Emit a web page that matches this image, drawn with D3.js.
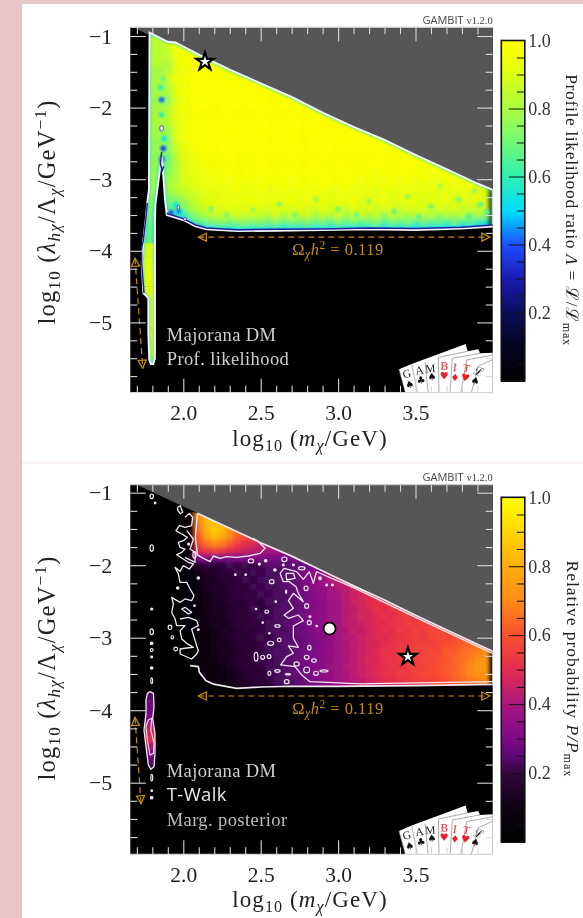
<!DOCTYPE html>
<html><head><meta charset="utf-8">
<script src="https://cdn.jsdelivr.net/npm/d3@7"></script>
<style>
html,body{margin:0;padding:0;background:#e8c5c9;}
svg{display:block;filter:blur(.45px);}
text{font-family:"Liberation Serif",serif;}
</style></head><body><div id="c"></div>
<script>
// ---------- DATA ----------
const gridXStart=1.70, gridXStep=0.05, gridYStart=-1.0, gridYStep=-0.1;
const likeGrid=[
[90,90,88,84,90,95],
[90,90,86,84,92,96,98,99],
[90,90,85,82,86,94,97,99,99,99],
[88,88,84,84,84,95,97,99,99,99,99,99],
[88,88,84,82,80,93,98,98,99,99,99,99,99,99],
[88,88,82,78,84,92,96,99,98,99,99,99,99,99,99,99],
[86,86,82,80,88,94,97,98,99,99,99,99,99,99,99,99,99,99],
[86,86,80,78,82,93,96,98,99,98,99,99,99,99,99,99,99,99,99,99],
[86,86,80,80,80,92,97,98,99,99,99,99,98,99,99,99,99,99,99,99,99,99],
[85,85,78,76,74,90,96,98,98,99,99,99,99,99,99,99,99,99,99,99,99,99,99,99],
[85,85,80,80,82,92,97,97,99,99,98,99,99,99,99,99,99,99,99,99,99,99,99,99,99,99],
[85,85,80,82,84,93,96,98,98,99,99,99,99,99,98,99,99,99,99,99,99,99,99,99,99,99,99,99],
[85,85,80,82,82,92,96,97,98,99,99,98,99,99,99,99,99,99,98,99,99,99,99,99,99,99,99,99,99,99],
[84,84,80,78,78,90,95,98,98,98,99,99,99,99,98,99,99,99,99,99,99,99,98,99,99,99,99,99,99,99,99,99],
[84,84,78,80,76,92,96,97,98,99,98,99,99,98,99,99,99,98,99,99,99,99,99,99,99,98,99,99,99,99,99,99,99,99],
[84,84,76,76,72,88,94,97,98,98,99,99,98,99,99,98,99,99,99,98,99,99,99,99,98,99,99,99,99,98,99,99,99,99,99,99],
[83,83,76,78,74,86,93,96,97,98,98,99,99,98,99,99,99,98,99,99,99,98,99,99,99,99,98,99,99,99,99,99,99,99,99,99,99,99],
[83,83,76,74,68,84,92,95,97,97,98,98,99,98,99,98,99,99,98,99,99,98,99,98,99,99,99,98,99,99,99,98,99,99,99,99,99,99,99,99],
[83,83,76,76,70,82,90,94,95,97,97,98,98,97,98,98,99,98,99,97,98,99,98,99,98,98,99,98,99,98,99,99,98,97,99,99,98,99,99,98,99,99],
[82,82,78,74,74,82,90,93,95,96,97,97,98,97,98,97,98,99,97,98,98,97,99,98,98,97,98,99,97,98,98,96,98,97,97,98,97,98,96,98,97,98,97,98],
[82,82,78,76,78,82,90,92,94,96,95,97,96,97,98,97,96,98,97,98,96,98,97,98,98,97,98,97,98,96,97,95,96,97,96,98,95,97,96,94,97,96,98,95,97,96],
[82,82,78,78,78,84,88,90,92,94,95,94,96,97,95,96,97,96,95,97,96,97,95,96,97,96,95,97,96,94,96,93,97,95,96,94,96,92,95,96,93,96,94,97,92,95],
[80,80,76,76,76,80,85,86,90,91,92,94,93,95,94,93,96,94,95,93,95,94,96,93,95,92,96,94,92,95,93,91,95,92,94,96,90,94,92,89,94,91,95,90,93,88],
[78,78,74,66,70,72,78,84,88,92,93,95,94,96,95,97,94,96,95,94,97,93,96,94,95,92,96,94,97,91,95,93,96,90,95,92,97,89,94,92,96,88,94,91,93,90],
[75,75,72,60,68,66,72,80,85,88,91,90,93,92,94,91,93,90,94,92,89,93,91,88,94,90,92,86,93,89,92,87,91,94,86,92,89,93,85,91,88,92,86,90,84,88],
[72,72,70,50,62,60,58,72,78,82,85,87,85,89,86,88,85,83,89,81,87,84,89,80,86,83,88,79,85,87,81,86,77,85,83,79,87,81,85,77,83,79,85,75,81,79],
[70,70,68,30,30,44,50,60,66,70,72,74,70,74,76,72,74,70,76,68,73,70,74,68,72,66,74,68,72,66,70,74,66,71,68,72,64,70,66,68,63,70,64,66,60,58],
[68,68,66,0,0,0,0,0,36,50,54,56,54,56,58,54,58,53,56,52,56,53,58,52,55,52,56,54,52,55,53,56,50,54,52,54,50,53,51,52,50,52,48,50,48,46],
[68,68,66,0,0,0,0,0,34,46,48,50,48,50,50,48,50,48,50,46,50,48,50,46,48,46,50,48,46,48,48,50,46,48,46,48,46,48,46,46,44,46,44,44,44,42],
[70,70,68]
];
const postGrid=[
[0,0,0,0,0,0],
[0,0,0,0,0,0,0,0],
[0,0,0,0,0,0,0,0,70,70],
[0,0,0,0,0,1,2,3,70,78,78,72],
[0,0,0,0,0,2,3,5,70,84,86,80,72,66],
[0,0,0,0,0,2,3,5,66,82,88,84,74,66,60,56],
[0,0,0,0,0,2,3,5,62,78,84,80,70,62,58,55,50,48],
[0,0,0,0,0,2,3,5,58,66,70,68,62,56,52,50,46,44,42,40],
[0,0,0,0,0,2,3,6,50,54,56,54,50,48,46,44,42,40,38,36,36,36],
[0,0,0,0,0,2,4,7,30,32,30,28,30,32,30,30,32,30,30,28,30,32,34,36],
[0,0,0,0,0,2,4,6,18,20,18,20,22,20,22,20,22,24,26,24,26,26,28,30,34,36],
[0,0,0,0,0,2,3,5,13,16,15,18,20,22,20,23,21,24,22,26,25,28,30,34,36,40,44,48],
[0,0,0,0,0,2,3,5,12,15,14,18,17,20,22,20,23,22,24,26,25,28,32,35,38,42,46,50,54,56],
[0,0,0,0,0,2,3,5,11,14,16,15,18,20,19,22,21,24,22,25,26,28,31,34,36,38,42,44,48,52,54,56],
[0,0,0,0,0,2,3,5,10,13,15,16,17,19,21,20,23,21,24,23,26,27,30,33,36,38,40,43,45,48,50,52,54,56],
[0,0,0,0,0,2,3,5,10,12,14,15,18,17,20,21,19,23,22,24,25,28,30,32,35,37,40,42,46,47,50,51,53,52,55,56],
[0,0,0,0,0,2,3,5,9,12,15,14,16,19,18,22,20,21,23,25,24,27,29,32,34,38,39,43,44,47,49,52,50,53,55,54,56,58],
[0,0,0,0,0,2,3,5,9,11,13,15,17,18,20,19,22,21,24,23,26,28,31,33,36,37,40,42,45,48,47,50,52,51,54,55,53,56,58,60],
[0,0,0,0,0,2,3,5,8,11,14,13,16,18,19,21,20,23,22,25,26,27,30,32,35,38,39,43,44,46,48,50,49,52,53,55,54,57,56,58,60,62],
[0,0,0,0,0,2,3,5,8,10,13,15,15,17,20,19,21,22,24,23,25,28,29,32,34,37,40,41,45,44,47,49,51,50,54,53,56,55,58,57,59,60,62,64],
[0,0,0,0,0,2,3,4,8,10,12,14,16,18,17,20,22,20,23,25,24,26,29,31,33,36,38,42,43,46,47,50,49,52,53,55,56,54,57,59,58,60,61,63,65,66],
[0,0,0,0,0,2,3,4,7,10,13,13,15,17,19,18,21,23,22,24,26,27,28,30,34,35,39,40,44,45,48,47,51,52,54,53,56,57,55,58,60,61,63,64,66,68],
[0,0,0,0,0,2,3,4,7,9,12,14,14,16,19,20,20,22,24,23,25,28,29,31,33,36,38,41,43,46,47,50,52,51,55,54,57,56,59,58,62,62,65,66,68,72],
[0,0,0,0,0,2,3,4,6,9,11,13,15,17,18,19,22,21,23,25,26,27,30,30,34,35,39,40,44,45,49,48,52,53,54,56,55,58,57,60,61,64,65,68,72,74],
[0,0,0,0,0,2,3,4,6,8,10,12,14,16,19,18,20,23,22,24,25,28,29,32,33,37,38,42,43,46,47,50,51,54,53,55,57,56,59,60,62,63,66,70,74,76],
[0,0,0,0,0,2,3,4,5,8,10,11,13,15,17,19,19,21,23,24,26,27,28,31,34,36,39,40,44,45,48,49,52,52,55,54,56,58,58,60,61,64,66,70,73,74],
[0,0,0,0,0,2,3,3,5,7,9,10,12,14,16,18,18,20,22,24,24,26,29,30,32,35,37,40,42,44,46,48,50,51,52,54,55,56,57,58,60,62,64,66,68,70],
[0,0,0,0,0,1,2,3,4,5,7,8,10,12,14,15,16,17,19,20,22,24,25,27,29,32,34,36,38,40,42,44,45,46,48,49,50,51,52,53,54,56,58,60,62,64],
[0,0,0,0,0,0,0,0,4,5,7,8,10,12,14,15,16,17,19,20,22,24,25,27,29,32,34,36,38,40,42,44,45,46,48,49,50,51,52,53,54,56,58,60,62,64]
];
// narrow funnel strip at low mass
const stripLikeY=[-4.0,-4.2,-4.4,-4.6,-4.8,-5.0,-5.2,-5.4,-5.6];
const stripLikeV=[88,90,92,92,90,92,90,88,80];
const stripPostY=[-3.7,-3.8,-3.9,-4.0,-4.1,-4.2,-4.3,-4.4,-4.5,-4.6,-4.7,-4.8];
const stripPostV=[22,24,28,28,30,42,48,50,40,32,26,22];
// isolated darker specks in the likelihood map: x, y, value
const specksLike=[[1.86,-1.89,42],[1.855,-1.72,62],[1.87,-1.60,70],[1.86,-2.10,60],[1.875,-2.43,55],[1.87,-2.57,40],[1.862,-2.72,38],[1.95,-3.36,55],[1.97,-3.45,45],[1.92,-3.47,40],
[2.45,-3.43,78],[2.62,-3.35,74],[2.72,-3.5,72],[2.86,-3.28,80],[3.0,-3.42,72],[3.12,-3.5,70],[3.2,-3.3,78],[3.36,-3.45,70],[3.45,-3.24,78],[3.52,-3.52,68],[3.6,-3.38,74],[3.66,-3.1,80],[3.78,-3.28,72],[3.84,-3.52,66],[3.92,-3.35,68],[3.88,-3.16,78],[3.96,-3.46,66],[2.28,-3.5,72],[2.18,-3.42,74]];

const xMajor=[2.0,2.5,3.0,3.5];
const xMinor=[1.7,1.8,1.9,2.1,2.2,2.3,2.4,2.6,2.7,2.8,2.9,3.1,3.2,3.3,3.4,3.6,3.7,3.8,3.9];
const yMajor=[-1,-2,-3,-4,-5];
const yMinor=[-1.25,-1.5,-1.75,-2.25,-2.5,-2.75,-3.25,-3.5,-3.75,-4.25,-4.5,-4.75,-5.25,-5.5,-5.75];
const cbMajor=[0.2,0.4,0.6,0.8,1.0];
const cbMinor=[0.05,0.1,0.15,0.25,0.3,0.35,0.45,0.5,0.55,0.65,0.7,0.75,0.85,0.9,0.95];

const likeStops=[0,0.1,0.2,0.3,0.4,0.5,0.6,0.7,0.8,0.9,1];
const likeColors=["#000000","#04041e","#0c0c5a","#1a1ab0","#1c4cff","#00dcff","#2cf0b4","#70f878","#a8fc40","#dcff14","#ffff00"];
const postStops=[0,0.1,0.2,0.25,0.3,0.4,0.5,0.6,0.7,0.8,0.9,1];
const postColors=["#000000","#0c0410","#32063e","#5a0870","#7c0a88","#a81680","#e42c50","#fa4e30","#ff8a18","#ffac0c","#ffd400","#ffff00"];

const outlineLike=[[1.782,-0.953],[1.90,-1.08],[1.95,-1.09],[2.10,-1.26],[2.30,-1.47],[2.50,-1.66],[2.70,-1.85],[2.90,-2.07],[3.10,-2.27],[3.30,-2.45],[3.50,-2.66],[3.70,-2.86],[3.90,-3.06],[4.0,-3.15],[4.0,-3.66],[3.8,-3.69],[3.5,-3.71],[3.2,-3.70],[2.9,-3.71],[2.6,-3.72],[2.35,-3.725],[2.15,-3.70],[2.08,-3.66],[2.0,-3.57],[1.893,-3.50],[1.882,-3.29],[1.871,-2.965],[1.86,-2.685],[1.85,-2.85],[1.835,-3.1],[1.82,-3.35],[1.817,-3.6],[1.817,-5.5],[1.806,-5.58],[1.79,-5.58],[1.78,-5.52],[1.774,-5.15],[1.774,-4.66],[1.742,-4.59],[1.731,-4.17],[1.742,-3.85],[1.759,-3.53],[1.768,-3.31],[1.778,-3.15]];
const navyLikeBottom=[[4.0,-3.64],[3.8,-3.67],[3.5,-3.69],[3.2,-3.68],[2.9,-3.695],[2.6,-3.70],[2.35,-3.705],[2.15,-3.68],[2.08,-3.64],[2.0,-3.55],[1.893,-3.48]];
const navyLikeSpike=[[1.86,-2.62],[1.852,-2.78],[1.863,-2.88],[1.873,-2.82]];
const navyLikeLeft=[[1.768,-3.33],[1.759,-3.53],[1.742,-3.85],[1.731,-3.96],[1.731,-4.17],[1.746,-4.59]];
const dotsLike=[[1.860,-2.29,0.012,0.04],[1.968,-3.393,0.008,0.03],[2.011,-3.556,0.01,0.02]];

const greyLike=[[1.70,-0.875],[4.0,-0.875],[4.0,-3.15],[1.70,-0.905]];
const greyPost=[[1.70,-0.89],[4.0,-0.89],[4.0,-3.19],[1.70,-0.89]];

const outlinePost=[[2.091,-1.285],[2.3,-1.49],[2.5,-1.69],[2.7,-1.875],[2.9,-2.08],[3.1,-2.285],[3.3,-2.48],[3.5,-2.69],[3.7,-2.89],[3.9,-3.09],[4.0,-3.19],[4.0,-3.645],[3.5,-3.66],[3.0,-3.67],[2.7,-3.67],[2.5,-3.68],[2.345,-3.70],[2.194,-3.64],[2.147,-3.593],[2.104,-3.478],[2.097,-3.40],[2.044,-3.386]];
const regionPostExtra=[[1.95,-3.4],[1.95,-1.2]];
const trianglePost=[[2.091,-1.294],[2.078,-1.607],[2.091,-1.859],[2.130,-1.905],[2.173,-1.951],[2.194,-1.873],[2.237,-1.905],[2.280,-1.882],[2.345,-1.892],[2.420,-1.873],[2.496,-1.837],[2.528,-1.767],[2.485,-1.675],[2.452,-1.63]];
const chainPost=[[4.0,-3.607],[3.314,-3.63],[3.142,-3.638],[2.969,-3.62],[2.818,-3.606],[2.765,-3.514],[2.722,-3.399],[2.629,-3.376],[2.668,-3.261],[2.711,-3.215],[2.679,-3.114],[2.743,-3.132],[2.711,-3.008],[2.711,-2.838],[2.775,-2.765],[2.743,-2.687],[2.679,-2.732],[2.651,-2.687],[2.711,-2.595],[2.679,-2.489],[2.711,-2.388],[2.775,-2.503],[2.743,-2.388],[2.728,-2.296],[2.685,-2.227],[2.646,-2.227],[2.625,-2.112],[2.651,-2.043],[2.732,-2.089],[2.775,-2.195],[2.814,-2.089],[2.840,-2.25],[2.86,-2.09],[3.1,-2.31],[3.5,-2.72],[4.0,-3.22]];
const chainInner=[[2.663,-2.112],[2.711,-2.112],[2.722,-2.181],[2.668,-2.204],[2.663,-2.112]];
const bandPost=[[2.011,-1.34],[2.039,-1.285],[2.061,-1.34],[2.054,-1.455],[2.011,-1.478],[1.975,-1.455],[1.953,-1.524],[1.990,-1.57],[2.026,-1.616],[2.0,-1.662],[1.968,-1.685],[1.979,-1.754],[2.011,-1.777],[1.990,-1.823],[1.957,-1.855],[2.0,-1.914],[2.033,-1.96],[2.065,-1.983],[2.039,-2.052],[2.0,-2.006],[1.979,-2.085],[1.947,-2.03],[1.968,-2.121],[1.979,-2.236],[2.022,-2.236],[2.044,-2.328],[2.069,-2.42],[2.054,-2.489],[2.011,-2.466],[1.979,-2.512],[1.925,-2.443],[1.936,-2.535],[1.925,-2.65],[1.947,-2.742],[1.957,-2.834],[2.011,-2.834],[1.979,-2.903],[1.990,-3.018],[2.022,-3.078],[2.065,-3.133],[2.022,-3.142],[1.979,-3.156],[1.979,-3.225],[2.054,-3.294],[2.087,-3.225],[2.097,-3.179],[2.076,-3.041],[2.054,-2.88],[2.097,-2.834],[2.087,-2.765],[2.033,-2.719],[1.979,-2.742]];
const bandLoop=[[2.011,-2.581],[2.054,-2.65],[2.033,-2.673],[1.99,-2.604],[2.011,-2.581]];
const bandUpper=[[2.022,-1.524],[2.065,-1.639],[2.044,-1.777],[2.076,-1.823],[2.076,-1.96],[2.011,-1.891]];
const topLoop=[[1.964,-1.20],[1.98,-1.18],[1.996,-1.27],[1.98,-1.29],[1.964,-1.24],[1.964,-1.20]];
const stripPostOuter=[[1.785,-3.744],[1.807,-3.767],[1.811,-3.951],[1.802,-4.112],[1.817,-4.319],[1.817,-4.595],[1.811,-4.78],[1.79,-4.815],[1.774,-4.755],[1.759,-4.503],[1.746,-4.273],[1.759,-4.043],[1.759,-3.859],[1.768,-3.767],[1.785,-3.744]];
const stripPostInner=[[1.774,-4.135],[1.796,-4.112],[1.79,-4.273],[1.811,-4.457],[1.807,-4.595],[1.785,-4.618],[1.768,-4.411],[1.759,-4.227],[1.774,-4.135]];
// small closed contour islands: centre x, centre y, half-width, half-height (in axis units)
const islandsPost=[
[1.796,-1.05,.011,.032],[1.818,-1.142,.005,.012],[1.796,-1.763,.011,.045],[1.796,-2.604,.007,.014],[1.796,-2.917,.011,.04],[1.796,-3.078,.008,.018],[1.796,-3.17,.009,.02],[1.796,-3.266,.006,.012],[1.796,-3.418,.008,.016],[1.796,-3.593,.006,.04],[1.796,-4.93,.006,.045],[1.796,-5.11,.005,.01],[1.796,-5.206,.008,.018],
[2.336,-2.131,.005,.01],[2.403,-2.131,.005,.01],[2.470,-3.262,.012,.06],[2.097,-2.177,.008,.016],[2.035,-1.708,.007,.014],[2.072,-1.859,.01,.045],[1.964,-2.314,.008,.016],[1.929,-2.995,.008,.022],[1.914,-2.857,.012,.03],[1.951,-3.156,.012,.025],[2.097,-2.889,.006,.012],[2.072,-2.558,.005,.01],[2.47,-2.604,.005,.01],
[2.437,-1.942,.017,.028],[2.491,-1.984,.007,.014],[2.532,-1.938,.008,.016],[2.653,-1.919,.017,.032],[2.592,-2.066,.008,.016],[2.646,-1.997,.006,.012],[2.711,-1.997,.006,.012],[2.765,-2.043,.021,.022],[2.883,-2.181,.008,.02],[2.926,-2.273,.006,.012],[2.963,-2.273,.006,.012],[2.571,-2.227,.015,.028],
[2.539,-2.64,.012,.022],[2.513,-2.792,.005,.01],[2.597,-2.503,.005,.01],[2.608,-2.838,.017,.018],[2.556,-2.939,.005,.01],[2.564,-3.077,.019,.028],[2.62,-3.031,.012,.025],[2.513,-3.27,.012,.028],[2.554,-3.261,.012,.028],[2.556,-3.491,.009,.03],[2.608,-3.459,.017,.018],[2.676,-3.505,.017,.009],[2.668,-3.606,.015,.028],[2.732,-3.362,.017,.028],[2.797,-3.270,.015,.028],[2.844,-3.316,.015,.023],[2.797,-3.445,.019,.041],[2.857,-3.491,.015,.028],[2.909,-3.459,.026,.014],[2.814,-3.137,.011,.032],[2.814,-2.792,.013,.032],[2.818,-2.71,.006,.012],[2.862,-2.838,.005,.01],[2.793,-2.319,.013,.032],[2.797,-2.562,.013,.032],[2.664,-2.365,.004,.023]
];
const starLike=[2.140,-1.358], starPost=[3.451,-3.262], meanPost=[2.945,-2.875];
const relicLikeH=[[2.097,-3.81],[3.98,-3.81]], relicLikeV=[[1.688,-4.105],[1.738,-5.64]];
const relicPostH=[[2.097,-3.804],[3.98,-3.804]], relicPostV=[[1.688,-4.10],[1.727,-5.29]];

// cards decoration
const cardLetters=[["G",38,100,-15,"#222"],["A",75,90,-10,"#222"],["M",107,85,-4,"#222"],["B",147,78,2,"#f01c28"],["I",178,82,8,"#f01c28"],["T",212,85,12,"#f01c28"],["ℒ",247,95,16,"#222"]];
const cardSuits=[["♠",47,133,-15,"#111"],["♣",80,120,-10,"#111"],["♠",112,110,-4,"#111"],["♥",147,107,2,"#f01c28"],["♦",178,112,8,"#f01c28"],["♥",209,112,12,"#f01c28"],["♠",238,122,16,"#111"]];

// ---------- DRAW ----------
const W=583,H=918;
const svg=d3.select("#c").append("svg").attr("width",W).attr("height",H);
svg.append("rect").attr("width",W).attr("height",H).attr("fill","#e8c5c9");
svg.append("rect").attr("x",22).attr("y",4).attr("width",W-22).attr("height",H-4).attr("fill","#fff");
svg.append("rect").attr("x",22).attr("y",462).attr("width",W-22).attr("height",1.5).attr("fill","#f4eaea");
const defs=svg.append("defs");
const mk=defs.append("marker").attr("id","arr").attr("viewBox","0 0 10 10").attr("refX",9).attr("refY",5)
  .attr("markerWidth",10).attr("markerHeight",10).attr("markerUnits","userSpaceOnUse").attr("orient","auto-start-reverse");
mk.append("path").attr("d","M1,1 L9,5 L1,9 Z").attr("fill","none").attr("stroke","#c58a0c").attr("stroke-width",1.3);
defs.append("filter").attr("id","blL").attr("x","-5%").attr("y","-5%").attr("width","110%").attr("height","110%")
  .append("feGaussianBlur").attr("stdDeviation",2.5);
defs.append("filter").attr("id","blP").attr("x","-5%").attr("y","-5%").attr("width","110%").attr("height","110%")
  .append("feGaussianBlur").attr("stdDeviation",2.0);
defs.append("filter").attr("id","bl2").attr("x","-100%").attr("y","-100%").attr("width","300%").attr("height","300%")
  .append("feGaussianBlur").attr("stdDeviation",1);

function math(g,x,y,segs,size,rot,anchor,ls){
  const t=g.append("text").attr("transform",`translate(${x},${y}) rotate(${rot||0})`)
    .attr("text-anchor",anchor||"middle").attr("font-size",size).attr("fill","#222").attr("letter-spacing",(ls||0)+"px");
  let cur=0;
  segs.forEach(s=>{
    const k=s[1]||"";
    const small=k.includes("sub")||k.includes("sup");
    const target=k.includes("sub")?size*0.2:k.includes("sup")?-size*0.38:0;
    const sp=t.append("tspan").text(s[0]).attr("dy",target-cur);
    if(small)sp.attr("font-size",size*0.7);
    if(k.endsWith("i"))sp.attr("font-style","italic");
    cur=target;
  });
  return t;
}
const line=(x,y)=>d3.line().x(d=>x(d[0])).y(d=>y(d[1]));

function panel(o){
  const x=d3.scaleLinear().domain([2,3.5]).range([183.3,415.5]);
  const y=d3.scaleLinear().domain([-1,-5]).range([o.y1,o.y5]);
  const L=130.3,R=492.7,T=o.top,B=o.bottom;
  const id=o.id;
  const g=svg.append("g");
  defs.append("clipPath").attr("id","plot"+id).append("rect").attr("x",L).attr("y",T).attr("width",R-L).attr("height",B-T);
  defs.append("clipPath").attr("id","reg"+id).append("path").attr("d",line(x,y)(o.region)+"Z");
  g.append("rect").attr("x",L).attr("y",T).attr("width",R-L).attr("height",B-T).attr("fill","#000");
  const color=d3.scaleLinear().domain(o.stops).range(o.colors).interpolate(d3.interpolateRgb).clamp(true);
  const pg=g.append("g").attr("clip-path",`url(#plot${id})`);
  pg.append("path").attr("d",line(x,y)(o.grey)+"Z").attr("fill","#565656");
  // heat cells
  const hc=pg.append("g").attr("clip-path",`url(#reg${id})`);
  const hb=hc.append("g").attr("filter",`url(#bl${id})`);
  o.grid.forEach((row,r)=>row.forEach((v,i)=>{
    const cx=gridXStart+gridXStep*i, cy=gridYStart+gridYStep*r;
    hb.append("rect").attr("x",x(cx-gridXStep/2)).attr("y",y(cy-gridYStep/2))
      .attr("width",x(cx+gridXStep/2)-x(cx-gridXStep/2)+.5).attr("height",y(cy+gridYStep/2)-y(cy-gridYStep/2)+.5)
      .attr("fill",color(v/100));
  }));
  if(o.drawOverlay)o.drawOverlay(pg,hc,x,y,color);
  // relic arrows
  [o.relicH,o.relicV].forEach(a=>pg.append("path").attr("d",line(x,y)(a)).attr("fill","none")
    .attr("stroke","#c58a0c").attr("stroke-width",1.2).attr("stroke-dasharray","6,4")
    .attr("marker-start","url(#arr)").attr("marker-end","url(#arr)"));
  // markers
  const star=d3.symbol().type(d3.symbolStar).size(95);
  pg.append("path").attr("d",star()).attr("transform",`translate(${x(o.star[0])},${y(o.star[1])})`)
    .attr("fill","#fff").attr("stroke","#000").attr("stroke-width",2.2);
  // ticks
  const tickG=g.append("g");
  const tk=(axis,tx,ty)=>{const a=tickG.append("g").attr("transform",`translate(${tx},${ty})`).call(axis);
    a.select(".domain").remove();a.selectAll("text").remove();a.selectAll("line").attr("stroke","#d8d8d8").attr("stroke-width",1.1);};
  tk(d3.axisBottom(x).tickValues(xMajor).tickSize(14),0,T);
  tk(d3.axisBottom(x).tickValues(xMinor).tickSize(7),0,T);
  tk(d3.axisTop(x).tickValues(xMajor).tickSize(14),0,B);
  tk(d3.axisTop(x).tickValues(xMinor).tickSize(7),0,B);
  tk(d3.axisRight(y).tickValues(yMajor).tickSize(15.5),L,0);
  tk(d3.axisRight(y).tickValues(yMinor).tickSize(7),L,0);
  tk(d3.axisLeft(y).tickValues(yMajor).tickSize(15.5),R,0);
  tk(d3.axisLeft(y).tickValues(yMinor).tickSize(7),R,0);
  g.append("line").attr("x1",L).attr("x2",R).attr("y1",T).attr("y2",T).attr("stroke","#c8c8c8").attr("stroke-width",1.2);
  g.append("line").attr("x1",L).attr("x2",R).attr("y1",B).attr("y2",B).attr("stroke","#d8d8d8").attr("stroke-width",1.2);
  // labels on plot
  o.notes.forEach(n=>{pg.append("text").attr("x",166.7).attr("y",n[1]).attr("font-size",18.5).attr("fill",n[2]||"#cfcfcf")
    .attr("letter-spacing",".4px").style("font-family",n[3]||null).text(n[0]);});
  const om=math(pg,338,o.relicLabelY,[["Ω"],["χ","subi"],["h","i"],["2","sup"],[" = 0.119"]],16.5,0,"middle",.5);
  om.attr("fill","#c58a0c");
  // cards
  const cg=pg.append("g").attr("transform",`translate(395,${B-52.7})`);
  const sc=v=>v/3;
  cg.append("path").attr("d","M12,88 L50,72 L212,12 L218,34 L250,28 L255,40 L300,38 L300,162 L32,162 Z".replace(/-?\d+(\.\d+)?/g,m=>sc(+m))).attr("fill","#fff");
  [[32,162,12,88],[68,162,50,72],[100,162,90,66],[132,162,130,52],[165,162,172,55],[197,162,215,60],[228,162,250,78],
   [130,52,218,34],[172,55,255,40],[215,60,300,44],[250,78,300,56]].forEach(l=>
    cg.append("line").attr("x1",sc(l[0])).attr("y1",sc(l[1])).attr("x2",sc(l[2])).attr("y2",sc(l[3])).attr("stroke","#888").attr("stroke-width",.7));
  cardLetters.forEach(c=>cg.append("text").text(c[0]).attr("font-size",11.5).attr("fill",c[4]).attr("text-anchor","middle")
    .attr("transform",`translate(${sc(c[1])},${sc(c[2])+4}) rotate(${c[3]})`));
  cardSuits.forEach(c=>cg.append("text").text(c[0]).attr("font-size",10).attr("fill",c[4]).attr("text-anchor","middle")
    .style("font-family","DejaVu Sans").attr("transform",`translate(${sc(c[1])},${sc(c[2])+3.5}) rotate(${c[3]})`));
  // axis numbers
  const xa=g.append("g").attr("transform",`translate(0,${B})`).call(d3.axisBottom(x).tickValues(xMajor).tickSize(0).tickPadding(12.5).tickFormat(d3.format(".1f")));
  xa.select(".domain").remove();xa.selectAll("text").attr("font-size",21.5).attr("fill","#222").style("font-family","Liberation Serif");
  const ya=g.append("g").attr("transform",`translate(${L},0)`).call(d3.axisLeft(y).tickValues(yMajor).tickSize(0).tickPadding(18).tickFormat(d3.format("d")));
  ya.select(".domain").remove();ya.selectAll("text").attr("font-size",22).attr("fill","#222").style("font-family","Liberation Serif");
  // titles
  math(g,310,o.xTitleY,[["log"],["10","sub"],[" ("],["m","i"],["χ","subi"],["/GeV)"]],23,0,"middle",1.1);
  math(g,55,o.yTitleY,[["log"],["10","sub"],[" ("],["λ","i"],["hχ","subi"],["/Λ"],["χ","subi"],["/GeV"],["−1","sup"],[")"]],24.5,-90,"middle",1.2);
  // GAMBIT tag
  const tag=g.append("text").attr("x",R).attr("y",T-3.5).attr("text-anchor","end").attr("fill","#444");
  tag.append("tspan").text("GAMBIT ").style("font-family","Open Sans").attr("font-size",11);
  tag.append("tspan").text("v1.2.0").attr("font-size",10.5);
  // colour bar
  const cb=d3.scaleLinear().domain([0,1]).range([o.cbB,o.cbT]);
  const cbL=501.3,cbR=524.8;
  const barG=g.append("g").attr("shape-rendering","crispEdges");
  d3.range(0,1,0.004).forEach(v=>barG.append("rect").attr("x",cbL).attr("width",cbR-cbL).attr("y",cb(v+0.004)).attr("height",cb(v)-cb(v+0.004)+1.2).attr("fill",color(v+.002)));
  const cbt=(axis)=>{const a=g.append("g").attr("transform",`translate(${cbR},0)`).call(axis);a.select(".domain").remove();a.selectAll("text").remove();a.selectAll("line").attr("stroke","#111").attr("stroke-width",1);};
  cbt(d3.axisLeft(cb).tickValues(cbMajor.slice(0,4)).tickSize(16));
  cbt(d3.axisLeft(cb).tickValues(cbMinor).tickSize(8));
  g.append("rect").attr("x",cbL).attr("y",o.cbT).attr("width",cbR-cbL).attr("height",o.cbB-o.cbT).attr("fill","none").attr("stroke","#111").attr("stroke-width",1.6);
  const cl=g.append("g").attr("transform",`translate(${cbR},0)`).call(d3.axisRight(cb).tickValues(cbMajor).tickSize(0).tickPadding(3.5).tickFormat(d3.format(".1f")));
  cl.select(".domain").remove();cl.selectAll("text").attr("font-size",18).attr("fill","#333").style("font-family","Liberation Serif");
  math(g,o.cbTitleX,o.cbTitleY,o.cbTitle,17.5,90,"middle",o.cbLs);
}

panel({id:"L",top:27.3,bottom:392.7,y1:36,y5:322.4,grid:likeGrid,stops:likeStops,colors:likeColors,
  region:outlineLike,grey:greyLike,star:starLike,relicH:relicLikeH,relicV:relicLikeV,relicLabelY:255,
  notes:[["Majorana DM",341],["Prof. likelihood",365]],xTitleY:446,yTitleY:212,
  cbT:40.5,cbB:380.5,cbTitleX:566,cbTitleY:210,cbLs:.65,
  cbTitle:[["Profile likelihood ratio "],["Λ","i"],[" = ℒ/ℒ"],["max","sub"]],
  drawOverlay(pg,hc,x,y,color){
    stripLikeY.forEach((v,i)=>hc.append("rect").attr("x",x(1.70)).attr("width",x(1.85)-x(1.70))
      .attr("y",y(v+0.105)).attr("height",y(v-0.1)-y(v+0.105)).attr("fill",color(stripLikeV[i]/100)));
    specksLike.forEach(s=>hc.append("circle").attr("cx",x(s[0])).attr("cy",y(s[1])).attr("r",2.8).attr("fill",color(s[2]/100)).attr("filter","url(#bl2)"));
    hc.append("path").attr("d",line(x,y)(outlineLike)+"Z").attr("fill","none").attr("stroke","#22dcd0").attr("stroke-width",3.5).attr("stroke-opacity",.7).attr("filter","url(#bl2)");
    const l=line(x,y);
    pg.append("path").attr("d",l(outlineLike)+"Z").attr("fill","none").attr("stroke","#f4f4ff").attr("stroke-width",1.9);
    [navyLikeBottom,navyLikeSpike,navyLikeLeft].forEach(a=>pg.append("path").attr("d",l(a)).attr("fill","none").attr("stroke","#20209a").attr("stroke-width",1.5));
    dotsLike.forEach(d=>pg.append("ellipse").attr("cx",x(d[0])).attr("cy",y(d[1])).attr("rx",x(d[0]+d[2])-x(d[0])).attr("ry",y(d[1]-d[3])-y(d[1])).attr("fill","#fff").attr("stroke","#2424c0").attr("stroke-width",.8));
  }
});

panel({id:"P",top:484.7,bottom:854.3,y1:492.7,y5:782.7,grid:postGrid,stops:postStops,colors:postColors,
  region:outlinePost.concat(regionPostExtra),grey:greyPost,star:starPost,relicH:relicPostH,relicV:relicPostV,relicLabelY:714,
  notes:[["Majorana DM",777],["T-Walk",801,"#e8e8e8","Open Sans"],["Marg. posterior",826,"#bdbdbd"]],xTitleY:907,yTitleY:668,
  cbT:497.3,cbB:842,cbTitleX:567,cbTitleY:669,cbLs:.95,
  cbTitle:[["Relative probability "],["P/P","i"],["max","sub"]],
  drawOverlay(pg,hc,x,y,color){
    const l=line(x,y);
    defs.append("clipPath").attr("id","stripP").append("path").attr("d",l(stripPostOuter)+"Z");
    const sg=pg.append("g").attr("clip-path","url(#stripP)");
    stripPostY.forEach((v,i)=>sg.append("rect").attr("x",x(1.73)).attr("width",x(1.83)-x(1.73))
      .attr("y",y(v+0.05)).attr("height",y(v-0.05)-y(v+0.05)+.5).attr("fill",color(stripPostV[i]/100)));
    const stroke=(a,w)=>pg.append("path").attr("d",l(a)).attr("fill","none").attr("stroke","#f0e8f0").attr("stroke-width",w).attr("stroke-linejoin","round");
    stroke(outlinePost,1.7);
    stroke(trianglePost,1.4);
    stroke(chainPost,1.3);
    stroke(chainInner,1.3);
    stroke(bandPost,1.3);
    stroke(bandLoop,1.3);
    stroke(bandUpper,1.3);
    stroke(topLoop,1.3);
    stroke(stripPostOuter,1.3);
    stroke(stripPostInner,1.1);
    islandsPost.forEach(d=>pg.append("ellipse").attr("cx",x(d[0])).attr("cy",y(d[1])).attr("rx",x(d[0]+d[2])-x(d[0])).attr("ry",y(d[1]-d[3])-y(d[1]))
      .attr("fill",(d[2]<=.008&&d[3]<=.02)?"#f0e8f0":"none").attr("stroke","#f0e8f0").attr("stroke-width",1.2));
    pg.append("circle").attr("cx",x(meanPost[0])).attr("cy",y(meanPost[1])).attr("r",6).attr("fill","#fff").attr("stroke","#000").attr("stroke-width",1.8);
  }
});
</script></body></html>
